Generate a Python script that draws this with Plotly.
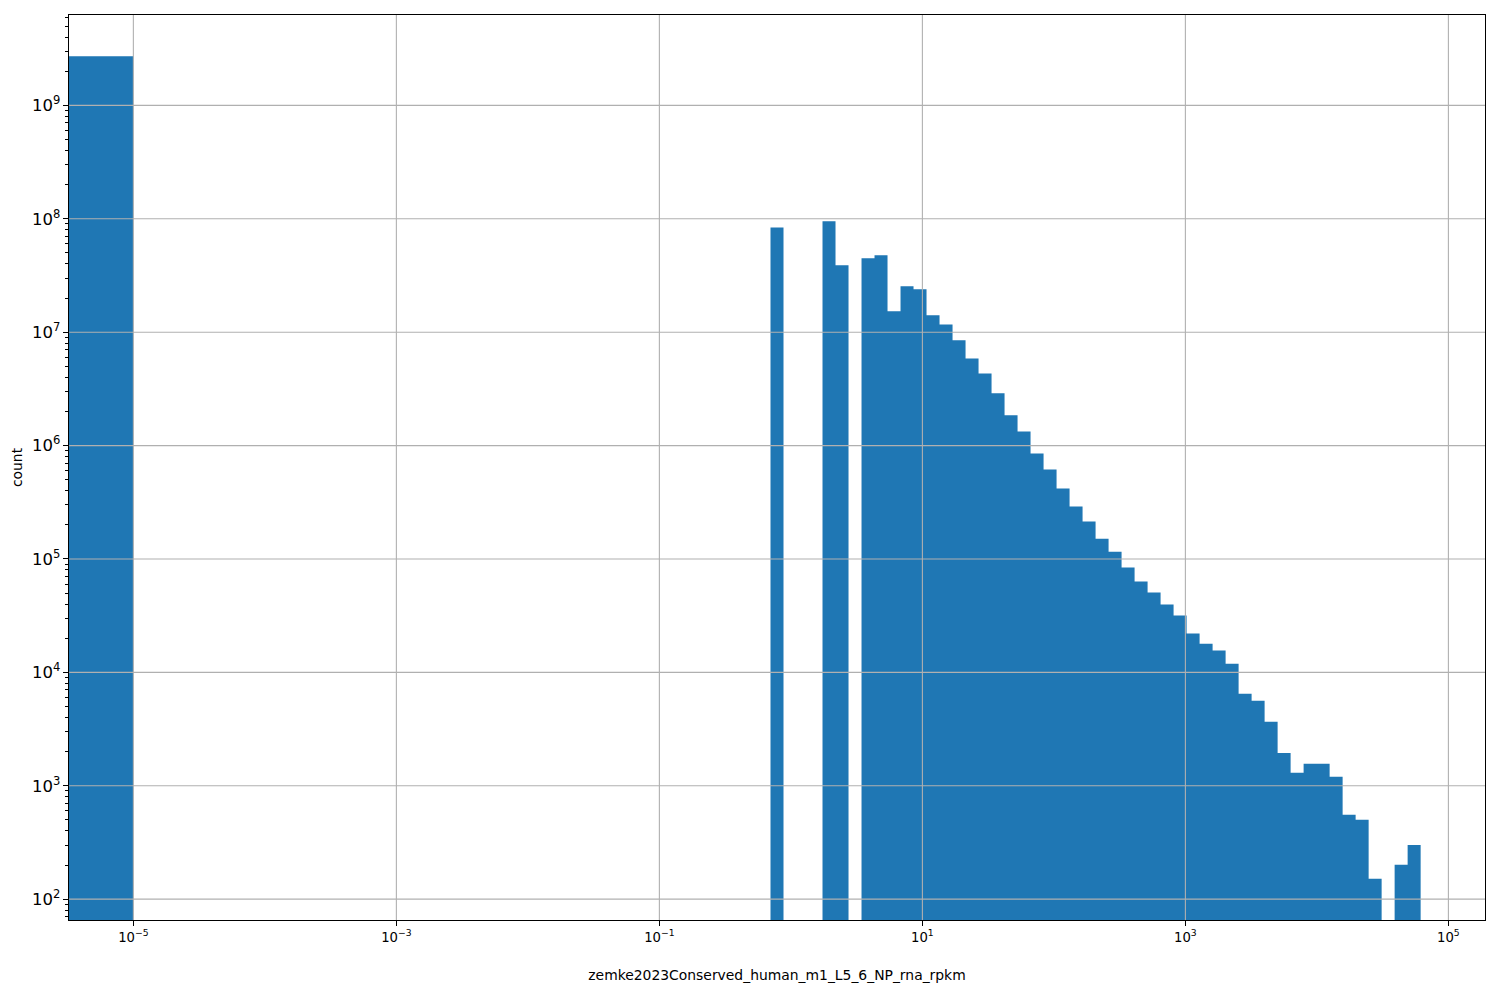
import numpy as np
import plotly.graph_objects as go

# ---------------- data ----------------
x_label = "zemke2023Conserved_human_m1_L5_6_NP_rna_rpkm"
y_label = "count"

# histogram layout: first bin [0, 1e-5), then 99 log-spaced bins from 1e-5 to max value
first_bin_right = 1e-5
first_bin_count = 2.72e9
log_bin_min = 1e-5
log_bin_max = 61500.0
n_log_bins = 99

# counts of the log-spaced bins starting at bin index 49 (bins 0..48 are empty)
first_nonempty_bin = 49
log_bin_counts = [
    8.4e7, 0, 0, 0, 9.5e7, 3.9e7, 0, 4.5e7, 4.77e7, 1.53e7,
    2.54e7, 2.39e7, 1.41e7, 1.17e7, 8.47e6, 5.87e6, 4.33e6, 2.89e6, 1.85e6, 1.33e6,
    8.53e5, 6.15e5, 4.19e5, 2.90e5, 2.14e5, 1.51e5, 1.16e5, 8.40e4, 6.32e4, 5.06e4,
    3.96e4, 3.17e4, 2.20e4, 1.79e4, 1.56e4, 1.19e4, 6490, 5620, 3670, 1950,
    1300, 1560, 1560, 1200, 555, 501, 151, 0, 201, 301,
]

x_tick_exponents = [-5, -3, -1, 1, 3, 5]
y_tick_exponents = [2, 3, 4, 5, 6, 7, 8, 9]

# ---------------- build bars ----------------
edges = np.logspace(np.log10(log_bin_min), np.log10(log_bin_max), n_log_bins + 1)
lefts = [0.0, ]
rights = [first_bin_right]
counts = [first_bin_count]
for i, c in enumerate(log_bin_counts):
    k = first_nonempty_bin + i
    lefts.append(edges[k])
    rights.append(edges[k + 1])
    counts.append(c)

# matplotlib-like autoscale (5% margins in log space, nonpositive ignored)
pos_x = [v for v in lefts + rights if v > 0]
lx0, lx1 = np.log10(min(pos_x)), np.log10(max(pos_x))
mx = 0.05 * (lx1 - lx0)
x_range = [lx0 - mx, lx1 + mx]
pos_y = [c for c in counts if c > 0]
ly0, ly1 = np.log10(min(pos_y)), np.log10(max(pos_y))
my = 0.05 * (ly1 - ly0)
y_range = [ly0 - my, ly1 + my]

y_floor = 10 ** (y_range[0] - 1)        # bars start below visible range
x_floor = 10 ** (x_range[0] - 1)        # stand-in for 0 on log axis

px, py = [], []
for l, r, c in zip(lefts, rights, counts):
    if c <= 0:
        continue
    l = l if l > 0 else x_floor
    px += [l, l, r, r, l, None]
    py += [y_floor, c, c, y_floor, y_floor, None]

fig = go.Figure()
fig.add_trace(go.Scatter(
    x=px, y=py, mode="lines", fill="toself", fillcolor="#1f77b4",
    line=dict(width=0, color="#1f77b4"), hoverinfo="skip", showlegend=False,
))

# grid lines above bars (matplotlib draws them on top here)
grid_color = "#b0b0b0"
gx, gy = [], []
for e in x_tick_exponents:
    gx += [10.0 ** e, 10.0 ** e, None]
    gy += [10 ** (y_range[0] - 2), 10 ** (y_range[1] + 2), None]
for e in y_tick_exponents:
    gx += [10 ** (x_range[0] - 2), 10 ** (x_range[1] + 2), None]
    gy += [10.0 ** e, 10.0 ** e, None]
fig.add_trace(go.Scatter(
    x=gx, y=gy, mode="lines", line=dict(color=grid_color, width=1.1),
    hoverinfo="skip", showlegend=False,
))

font = dict(family="DejaVu Sans", size=13.9, color="black")
tick_font = dict(family="DejaVu Sans", size=13.2, color="black")

x_ticktext = ["10<sup>" + ("\u2212" if e < 0 else "") + str(abs(e)) + "</sup>" for e in x_tick_exponents]

fig.update_layout(
    width=1500, height=1000,
    margin=dict(l=61, r=23, t=7, b=88),
    paper_bgcolor="white", plot_bgcolor="white",
    font=font, showlegend=False,
    xaxis=dict(
        type="log", range=x_range,
        tickmode="array", tickvals=[10.0 ** e for e in x_tick_exponents], ticktext=x_ticktext,
        showgrid=False, zeroline=False,
        showline=True, linecolor="black", linewidth=1.1, mirror=True,
        ticks="outside", ticklen=5, tickwidth=1.1, tickcolor="black",
        tickfont=tick_font, layer="above traces", automargin=False,
        title=dict(text=x_label, font=font, standoff=26),
    ),
    yaxis=dict(
        type="log", range=y_range, dtick=1, exponentformat="power",
        showgrid=False, zeroline=False,
        showline=True, linecolor="black", linewidth=1.1, mirror=True,
        ticks="outside", ticklen=5, tickwidth=1.1, tickcolor="black",
        minor=dict(ticks="outside", ticklen=2.8, tickwidth=0.8, tickcolor="black",
                   dtick="D1", showgrid=False),
        tickfont=tick_font, layer="above traces", automargin=False,
        title=dict(text=y_label, font=font, standoff=6),
    ),
)

fig.write_html("out.html")
